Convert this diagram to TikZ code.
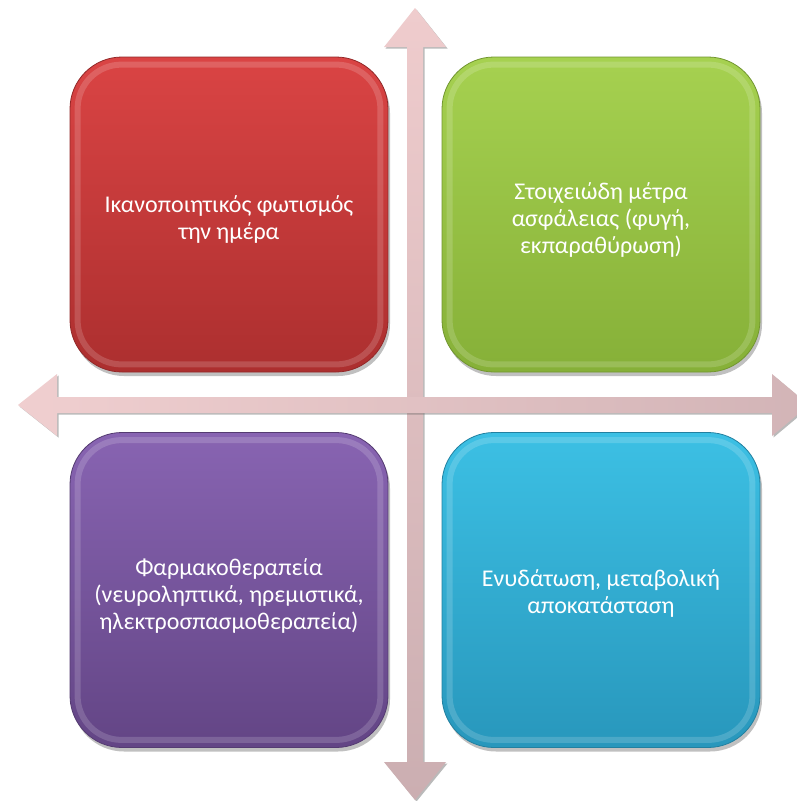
\documentclass[tikz,border=0pt]{standalone}
\usepackage{fontspec}
\setmainfont{Carlito}
\usetikzlibrary{shadows}
\definecolor{redtop}{HTML}{DA4444}
\definecolor{redbot}{HTML}{AC2F2F}
\definecolor{greentop}{HTML}{A6D150}
\definecolor{greenbot}{HTML}{86B038}
\definecolor{purptop}{HTML}{8864B2}
\definecolor{purpbot}{HTML}{634585}
\definecolor{bluetop}{HTML}{3CC0E4}
\definecolor{bluebot}{HTML}{2897BC}
\definecolor{arrtop}{HTML}{EFCCCD}
\definecolor{arrbot}{HTML}{CBAEB1}
\begin{document}
\begin{tikzpicture}[x=1pt,y=-1pt,
  quad/.style={rounded corners=52pt, minimum width=318pt, minimum height=315pt, inner sep=0pt,
    drop shadow={shadow xshift=2pt,shadow yshift=-4pt,opacity=0.35,fill=black!70}},
  quadtext/.style={text=white, font=\fontsize{24}{27}\selectfont, align=center, inner sep=0pt},
  rim/.style={white, opacity=0.16, line width=6pt, rounded corners=44pt},
  arrowbody/.style={drop shadow={shadow xshift=1.5pt,shadow yshift=-1.5pt,opacity=0.45,fill=black!60}}
]
\clip (0,0) rectangle (797,801);
\useasboundingbox (0,0) rectangle (797,801);
\fill[white] (0,0) rectangle (797,801);

% vertical double arrow
\shade[arrowbody, top color=arrtop, bottom color=arrbot]
  (415,8) -- (446,47) -- (423,47) -- (423,762) -- (446,762) -- (415,800)
  -- (384,762) -- (407,762) -- (407,47) -- (384,47) -- cycle;
% horizontal double arrow
\shade[arrowbody, left color=arrtop!95!white, right color=arrbot!80!arrtop]
  (18,405) -- (57,374) -- (57,397) -- (772,397) -- (772,374) -- (809,405)
  -- (772,436) -- (772,413) -- (57,413) -- (57,436) -- cycle;

\node[quad, top color=redtop, bottom color=redbot, draw=redbot!85!black, line width=0.8pt]
  (red) at (229,214.5) {};
\node[quad, top color=greentop, bottom color=greenbot, draw=greenbot!85!black, line width=0.8pt]
  (green) at (601,214.5) {};
\node[quad, top color=purptop, bottom color=purpbot, draw=purpbot!85!black, line width=0.8pt]
  (purple) at (229,590) {};
\node[quad, top color=bluetop, bottom color=bluebot, draw=bluebot!85!black, line width=0.8pt]
  (blue) at (601,590) {};

\foreach \n in {red,green,purple,blue}{
  \draw[rim] ([shift={(8pt,-8pt)}]\n.north west) rectangle ([shift={(-8pt,8pt)}]\n.south east);
}

\node[quadtext] (redtxt) at ([yshift=-5pt]red.center) {Ικανοποιητικός φωτισμός\\την ημέρα};
\node[quadtext] (greentxt) at ([yshift=-5pt]green.center) {Στοιχειώδη μέτρα\\ασφάλειας (φυγή,\\εκπαραθύρωση)};
\node[quadtext] (purpletxt) at ([yshift=-6pt]purple.center) {Φαρμακοθεραπεία\\(νευροληπτικά, ηρεμιστικά,\\ηλεκτροσπασμοθεραπεία)};
\node[quadtext] (bluetxt) at ([yshift=-3pt]blue.center) {Ενυδάτωση, μεταβολική\\αποκατάσταση};
\end{tikzpicture}
\end{document}
